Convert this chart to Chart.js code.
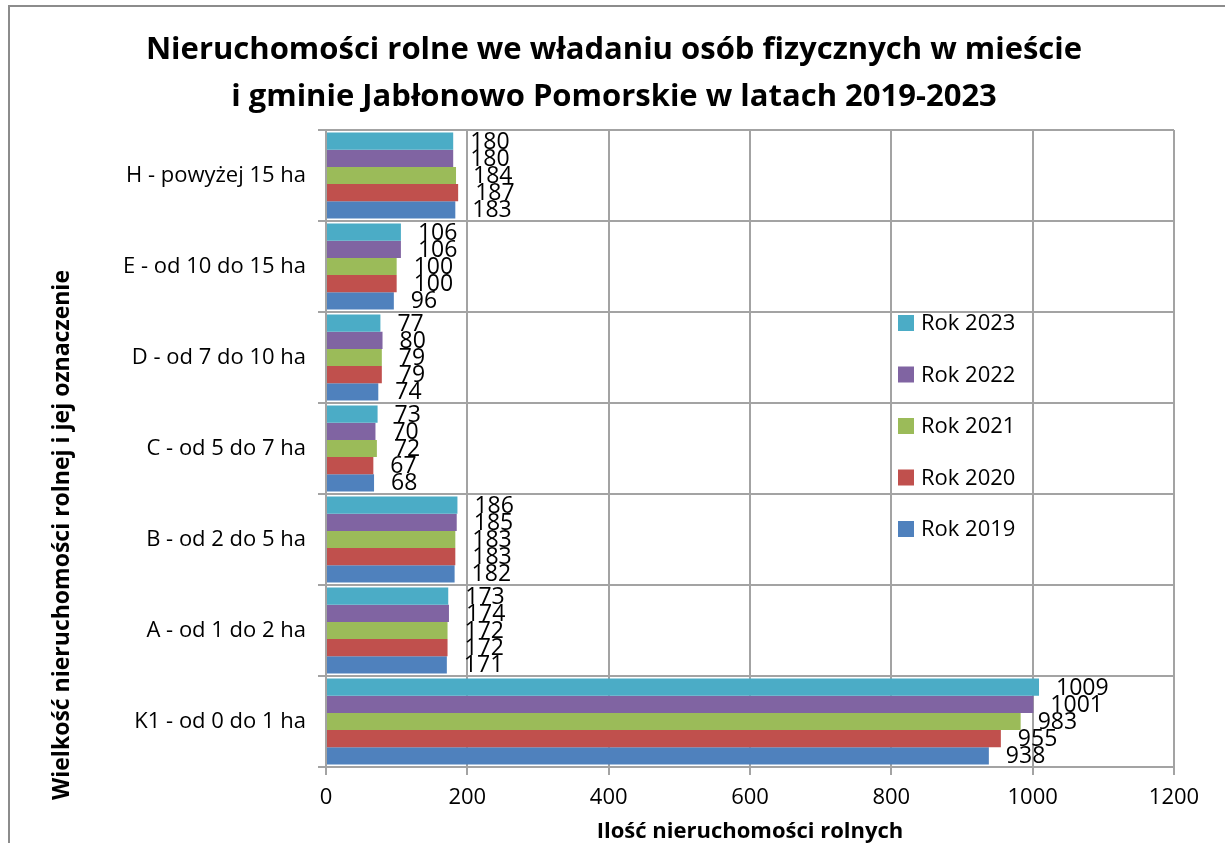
<!DOCTYPE html>
<html><head><meta charset="utf-8">
<script src="https://cdn.jsdelivr.net/npm/chart.js@4/dist/chart.umd.min.js"></script>
<style>html,body{margin:0;padding:0;background:#fff;overflow:hidden}</style>
</head><body>
<canvas id="c" width="1225" height="843" style="width:1225px;height:843px;display:block"></canvas>
<script>
const categories = ['H - powyżej 15 ha','E - od 10 do 15 ha','D - od 7 do 10 ha','C - od 5 do 7 ha','B - od 2 do 5 ha','A - od 1 do 2 ha','K1 - od 0 do 1 ha'];
const seriesNames = ['Rok 2023','Rok 2022','Rok 2021','Rok 2020','Rok 2019'];
const rok2023 = [180,106,77,73,186,173,1009];
const rok2022 = [180,106,80,70,185,174,1001];
const rok2021 = [184,100,79,72,183,172,983];
const rok2020 = [187,100,79,67,183,172,955];
const rok2019 = [183,96,74,68,182,171,938];
const xTicks = [0,200,400,600,800,1000,1200];
const seriesColors = ['#4BACC6','#8064A2','#9BBB59','#C0504D','#4F81BD'];
const titleLines = ['Nieruchomości rolne we władaniu osób fizycznych w mieście','i gminie Jabłonowo Pomorskie w latach 2019-2023'];
const xTitle = 'Ilość nieruchomości rolnych';
const yTitle = 'Wielkość nieruchomości rolnej i jej oznaczenie';

const FONT = '"Open Sans", sans-serif';
const GRID = '#a3a3a3';

const seriesValues = [rok2023, rok2022, rok2021, rok2020, rok2019];
const datasets = seriesNames.map((n,i)=>({
  label:n, data:seriesValues[i], backgroundColor:seriesColors[i],
  borderWidth:0, categoryPercentage:0.945, barPercentage:1.0
}));

const bgPlugin = {
  id:'bg',
  beforeDraw(chart){
    const ctx=chart.ctx; ctx.save(); ctx.fillStyle='#fff'; ctx.fillRect(0,0,chart.width,chart.height);
    ctx.strokeStyle='#8c8c8c'; ctx.lineWidth=2; ctx.strokeRect(9,6,1300,1000);
    ctx.restore();
  }
};

const textPlugin = {
  id:'texts',
  afterDraw(chart){
    const ctx=chart.ctx, ca=chart.chartArea;
    ctx.save();
    ctx.fillStyle='#000';
    ctx.font='bold 31px '+FONT; ctx.textAlign='center'; ctx.textBaseline='middle';
    ctx.fillText(titleLines[0], 614, 50);
    ctx.fillText(titleLines[1], 614, 97);
    ctx.font='bold 22px '+FONT;
    ctx.fillText(xTitle, (ca.left+ca.right)/2, 832);
    ctx.font='bold 23px '+FONT;
    ctx.save(); ctx.translate(62, 535); ctx.rotate(-Math.PI/2);
    ctx.fillText(yTitle, 0, 0); ctx.restore();
    ctx.font='22px '+FONT; ctx.textAlign='left';
    const ly0=323, lstep=51.5;
    seriesNames.forEach((n,i)=>{
      const y=ly0+i*lstep;
      ctx.fillStyle=seriesColors[i]; ctx.fillRect(898,y-8,16,16);
      ctx.fillStyle='#000'; ctx.fillText(n, 921, y+1);
    });
    ctx.restore();
  }
};

const labelPlugin = {
  id:'dlabels',
  afterDatasetsDraw(chart){
    const ctx=chart.ctx; ctx.save();
    ctx.font='23px '+FONT; ctx.fillStyle='#000'; ctx.textAlign='left'; ctx.textBaseline='middle';
    chart.data.datasets.forEach((ds,di)=>{
      const meta=chart.getDatasetMeta(di);
      meta.data.forEach((el,i)=>{
        ctx.fillText(String(ds.data[i]), el.x+17, el.y+1);
      });
    });
    ctx.restore();
  }
};

new Chart(document.getElementById('c'), {
  type:'bar',
  data:{labels:categories, datasets},
  options:{
    indexAxis:'y', responsive:false, animation:false, devicePixelRatio:1,
    layout:{padding:{top:130,right:51,bottom:0,left:0}},
    plugins:{legend:{display:false}, title:{display:false}, tooltip:{enabled:false}},
    scales:{
      x:{
        min:0,max:1200,
        afterBuildTicks(s){ s.ticks = xTicks.map(v=>({value:v})); },
        afterFit(s){ s.height = 76; },
        grid:{color:GRID, lineWidth:2, tickLength:8, drawTicks:true},
        border:{color:GRID, width:2},
        ticks:{color:'#000', font:{family:FONT,size:22}, padding:10, maxRotation:0, callback:(v)=>String(v)}
      },
      y:{
        afterFit(s){ s.width = 326; },
        grid:{color:GRID, lineWidth:2, tickLength:8, offset:true},
        border:{color:GRID, width:2},
        ticks:{color:'#000', font:{family:FONT,size:22}, padding:12}
      }
    }
  },
  plugins:[bgPlugin, textPlugin, labelPlugin]
});
</script>
</body></html>
